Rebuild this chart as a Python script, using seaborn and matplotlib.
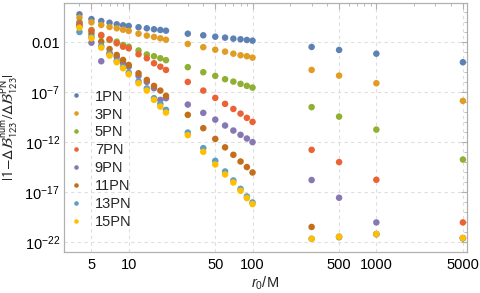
import numpy as np
import pandas as pd
import matplotlib
matplotlib.use("Agg")
import matplotlib.pyplot as plt
import matplotlib.ticker as mticker
import seaborn as sns

# separation r0/M
r0 = [4, 5, 6, 7, 8, 9, 10, 12, 14, 16, 18, 20, 30, 40, 50, 60, 70, 80, 90, 100, 300, 500, 1000, 5000]

# |1 - dB_num / dB_PN| for each truncation order
err_1pn = [6.3, 2.1, 1.35, 0.91, 0.63, 0.50, 0.43, 0.32, 0.25, 0.20, 0.17, 0.145,
           0.072, 0.050, 0.036, 0.029, 0.023, 0.020, 0.017, 0.0145, 3.4e-3, 1.7e-3, 7.2e-4, 1.0e-4]
err_3pn = [2.9, 1.0, 0.54, 0.34, 0.25, 0.18, 0.135, 0.072, 0.046, 0.034, 0.025, 0.018,
           6.8e-3, 3.2e-3, 1.8e-3, 1.15e-3, 7.2e-4, 5.0e-4, 4.0e-4, 2.9e-4, 1.7e-5, 4.6e-6, 7.9e-7, 1.35e-8]
err_5pn = [1.07, 0.17, 0.043, 0.017, 0.0115, 5.4e-3, 3.6e-3, 1.5e-3, 6.0e-4, 4.0e-4, 2.5e-4, 1.6e-4,
           3.2e-5, 1.0e-5, 4.3e-6, 2.0e-6, 1.15e-6, 6.8e-7, 4.3e-7, 2.9e-7, 3.2e-9, 3.6e-10, 1.8e-11, 1.8e-14]
err_7pn = [0.79, 0.145, 0.054, 0.020, 7.9e-3, 3.6e-3, 2.5e-3, 6.3e-4, 2.5e-4, 7.9e-5, 3.6e-5, 1.7e-5,
           1.07e-6, 1.45e-7, 2.7e-8, 6.8e-9, 2.1e-9, 7.2e-10, 2.7e-10, 1.07e-10, 1.7e-13, 1.0e-14, 1.7e-16, 9.1e-21]
err_9pn = [0.54, 9.1e-3, 1.26e-4, 8.5e-4, 3.4e-4, 8.5e-5, 3.6e-5, 4.3e-6, 1.07e-6, 2.5e-7, 1.7e-8, 2.5e-8,
           5.8e-9, 8.5e-10, 1.8e-10, 4.6e-11, 1.45e-11, 5.4e-12, 2.3e-12, 1.0e-12, 1.6e-16, 2.7e-18, 9.1e-21, 2.4e-22]
err_11pn = [0.43, 0.072, 0.0115, 2.1e-3, 5.4e-4, 1.7e-4, 5.4e-5, 7.9e-6, 1.7e-6, 4.3e-7, 1.45e-7, 4.3e-8,
            5.4e-10, 2.5e-11, 2.1e-12, 3.0e-13, 5.4e-14, 1.15e-14, 3.2e-15, 9.1e-16, 3.2e-21, 3.0e-22, 6.0e-22, 2.4e-22]
err_13pn = [0.107, 0.034, 4.3e-3, 6.8e-4, 1.35e-4, 3.4e-5, 9.1e-6, 1.2e-6, 2.4e-7, 2.5e-8, 6.8e-9, 1.7e-9,
            9.1e-12, 2.5e-13, 1.35e-14, 1.15e-15, 1.45e-16, 2.1e-17, 3.6e-18, 9.1e-19, 2.1e-22, 3.4e-22, 6.3e-22, 2.5e-22]
err_15pn = [0.29, 0.025, 2.9e-3, 4.6e-4, 1.0e-4, 2.5e-5, 6.3e-6, 7.9e-7, 1.45e-7, 1.7e-8, 3.6e-9, 9.1e-10,
            5.0e-12, 1.07e-13, 5.8e-15, 5.8e-16, 9.1e-17, 1.35e-17, 2.5e-18, 6.3e-19, 2.1e-22, 3.4e-22, 6.3e-22, 2.5e-22]

orders = ["1PN", "3PN", "5PN", "7PN", "9PN", "11PN", "13PN", "15PN"]
series = [err_1pn, err_3pn, err_5pn, err_7pn, err_9pn, err_11pn, err_13pn, err_15pn]
colors = ["#5E81B5", "#E19C24", "#8FB032", "#EB6235", "#8778B3", "#C56E1A", "#5D9EC7", "#FFBF00"]

y_major = [1e-22, 1e-17, 1e-12, 1e-7, 1e-2]
y_labels = [r"$10^{-22}$", r"$10^{-17}$", r"$10^{-12}$", r"$10^{-7}$", "0.01"]
x_major = [5, 10, 50, 100, 500, 1000, 5000]
x_labels = ["5", "10", "50", "100", "500", "1000", "5000"]

rows = []
for name, vals in zip(orders, series):
    for x, y in zip(r0, vals):
        rows.append((x, y, name))
df = pd.DataFrame(rows, columns=["r0", "err", "order"])

sns.set_theme(style="white")
plt.rcParams["font.family"] = ["Liberation Sans", "DejaVu Sans"]
plt.rcParams["mathtext.fontset"] = "custom"
plt.rcParams["mathtext.rm"] = "Liberation Sans"
plt.rcParams["mathtext.it"] = "Liberation Sans:italic"
plt.rcParams["mathtext.bf"] = "Liberation Sans:bold"

frame = "#b0b0b0"

fig, ax = plt.subplots(figsize=(4.8, 2.93), dpi=100)
fig.subplots_adjust(left=0.1333, right=0.973, top=0.99, bottom=0.14)

sns.scatterplot(data=df, x="r0", y="err", hue="order", hue_order=orders,
                palette=colors, s=22, linewidth=0, edgecolor="none", ax=ax)

ax.set_xscale("log")
ax.set_yscale("log")
ax.set_xlim(3.0, 5400)
ax.set_ylim(1e-23, 87)

ax.xaxis.set_major_locator(mticker.FixedLocator(x_major))
ax.xaxis.set_major_formatter(mticker.FixedFormatter(x_labels))
x_minor = [k * 10 ** n for n in range(0, 4) for k in range(1, 10) if k * 10 ** n not in x_major]
ax.xaxis.set_minor_locator(mticker.FixedLocator(x_minor))
ax.xaxis.set_minor_formatter(mticker.NullFormatter())

ax.yaxis.set_major_locator(mticker.FixedLocator(y_major))
ax.yaxis.set_major_formatter(mticker.FixedFormatter(y_labels))
ax.yaxis.set_minor_locator(mticker.FixedLocator([10.0 ** e for e in range(-23, 2)]))
ax.yaxis.set_minor_formatter(mticker.NullFormatter())

ax.tick_params(which="both", direction="in", top=True, right=True, colors=frame,
               labelcolor="black", labelsize=10.5)
ax.tick_params(which="major", length=4, width=0.8)
ax.tick_params(which="minor", length=2.2, width=0.6)
ax.tick_params(axis="x", pad=4)
ax.tick_params(axis="y", pad=3)

for sp in ax.spines.values():
    sp.set_color(frame)
    sp.set_linewidth(0.9)

ax.grid(True, which="major", color="#dedede", linestyle=(0, (3, 3)), linewidth=0.8)
ax.set_axisbelow(True)

ax.set_xlabel(r"$r_0$/M", fontsize=10.5, labelpad=2)
ax.set_ylabel(r"$|1\!-\!\Delta\mathcal{B}_{123}^{\mathrm{num}}/\Delta\mathcal{B}_{123}^{\mathrm{PN}}|$",
              fontsize=11, math_fontfamily="stixsans")
ax.yaxis.set_label_coords(-0.108, 0.5)

handles, labels = ax.get_legend_handles_labels()
ax.legend(handles, labels, loc="upper left", bbox_to_anchor=(0.015, 0.652), frameon=False,
          fontsize=10.5, markerscale=0.7, handlelength=0.8, handletextpad=0.9,
          labelspacing=0.27, borderpad=0, borderaxespad=0)

fig.savefig("out.png", dpi=100)
